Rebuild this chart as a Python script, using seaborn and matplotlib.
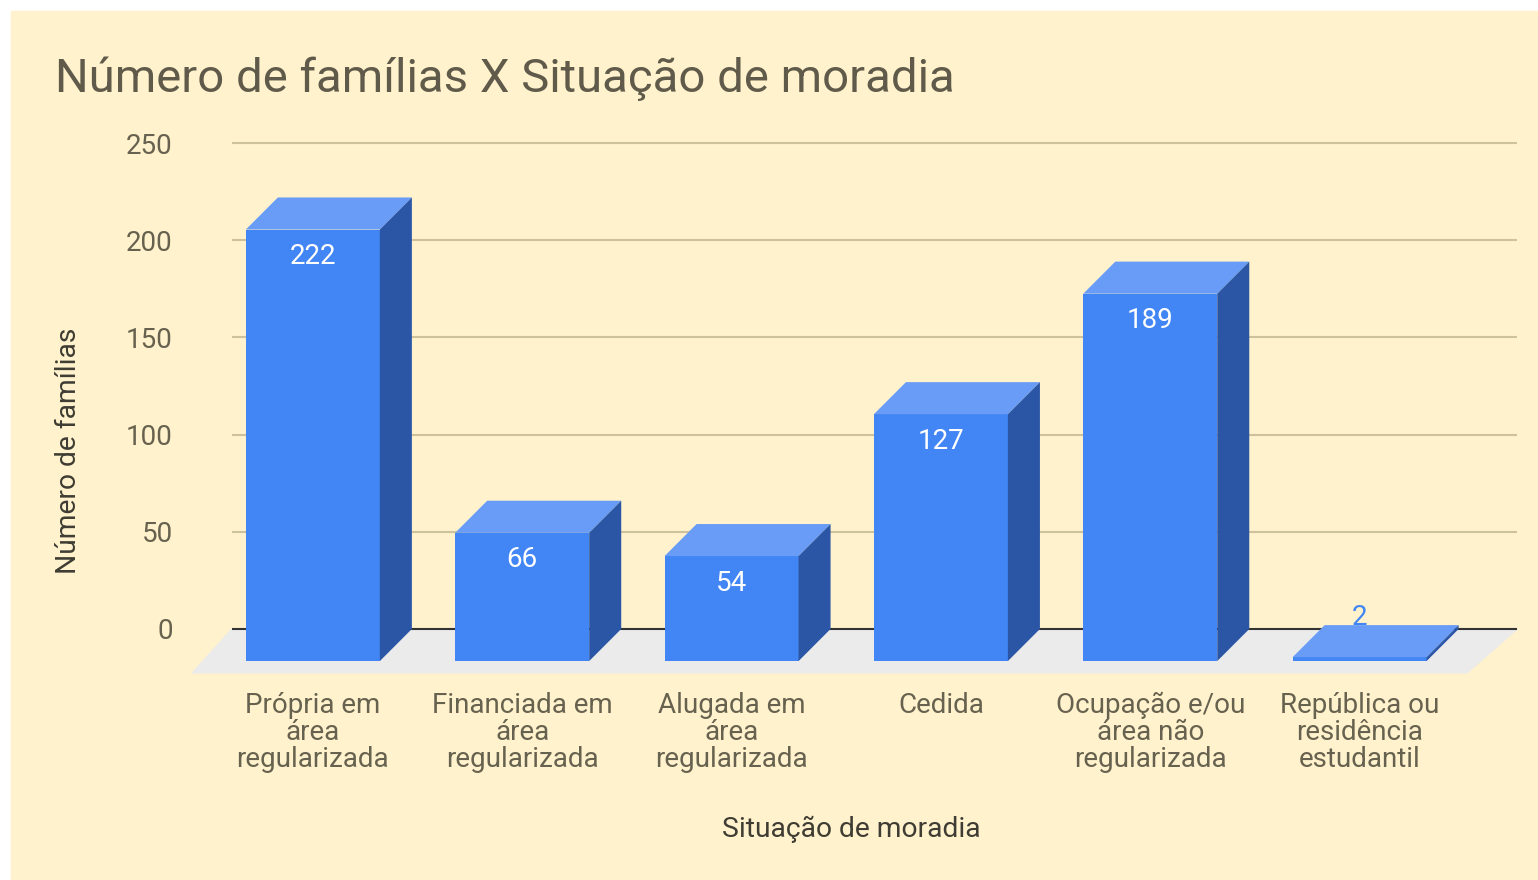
import matplotlib
matplotlib.use('Agg')
import matplotlib.pyplot as plt
from matplotlib.patches import Polygon, Rectangle
import pandas as pd
import seaborn as sns

# --- data ---
categories = ['Própria em\nárea\nregularizada',
              'Financiada em\nárea\nregularizada',
              'Alugada em\nárea\nregularizada',
              'Cedida',
              'Ocupação e/ou\nárea não\nregularizada',
              'República ou\nresidência\nestudantil']
familias = [222, 66, 54, 127, 189, 2]
y_ticks = [0, 50, 100, 150, 200, 250]

title = 'Número de famílias X Situação de moradia'
x_title = 'Situação de moradia'
y_title = 'Número de famílias'

# --- style ---
sns.set_theme(style='white')
plt.rcParams['font.family'] = ['Roboto', 'DejaVu Sans']

bg = '#FFF2CC'
front_col = '#4285F4'
top_col = '#699CF6'
side_col = '#2B56A5'
floor_col = '#EBEBEB'
grid_col = '#CDC29E'
text_col = '#67624F'
dark_text = '#3E3C33'

# 3D offsets in data units (back plane is up/right of the front face)
dx, dy = 0.153, 16.5
floor_dx_l, floor_dx_r, floor_dy = 0.19, 0.24, 22.6
x_lo, x_hi = -0.539, 5.60

fig = plt.figure(figsize=(15.38, 8.8), dpi=100, facecolor='white')
fig.patches.append(Rectangle((11 / 1538, 0), 1, 1 - 11 / 880, transform=fig.transFigure,
                             color=bg, zorder=-10))
ax = fig.add_axes([0.1167, 0.2278, 0.8807, 0.6207])
ax.set_facecolor('none')

df = pd.DataFrame({'situacao': categories, 'familias': familias})
sns.barplot(data=df, x='situacao', y='familias', color=front_col, saturation=1,
            width=0.64, linewidth=0, ax=ax, zorder=3)

# floor, grid and zero line
ax.add_patch(Polygon([(x_lo, 0), (x_hi, 0), (x_hi - floor_dx_r, -floor_dy),
                      (x_lo - floor_dx_l, -floor_dy)], closed=True, color=floor_col, zorder=1))
ax.hlines(y_ticks[1:], x_lo, x_hi, color=grid_col, lw=1.5, zorder=1.5)
ax.hlines(0, x_lo, x_hi, color='#333333', lw=1.5, zorder=2)

# turn the flat bars into boxes
centers = []
for p, v in zip(ax.containers[0], familias):
    x0 = p.get_x() - dx
    w = p.get_width()
    p.set_x(x0)
    p.set_y(-dy)
    ax.add_patch(Polygon([(x0, v - dy), (x0 + w, v - dy), (x0 + w + dx, v), (x0 + dx, v)],
                         closed=True, color=top_col, lw=0, zorder=3))
    ax.add_patch(Polygon([(x0 + w, -dy), (x0 + w + dx, 0), (x0 + w + dx, v), (x0 + w, v - dy)],
                         closed=True, color=side_col, lw=0, zorder=3))
    cx = x0 + w / 2
    centers.append(cx)
    if v >= 20:
        ax.text(cx, v - dy - 14, str(v), color='white', ha='center', va='center',
                fontsize=20, zorder=4)
    else:
        ax.text(cx, v + 4, str(v), color=front_col, ha='center', va='center',
                fontsize=20, zorder=4)

ax.set_xlim(-0.79, 5.68)
ax.set_ylim(-26, 255)
ax.set_yticks(y_ticks)
ax.set_yticklabels([str(t) for t in y_ticks])
ax.set_xticks(centers)
ax.set_xticklabels(categories, linespacing=1.0)
ax.tick_params(axis='y', length=0, pad=4.7, labelsize=20, labelcolor=text_col)
ax.tick_params(axis='x', length=0, pad=9, labelsize=20, labelcolor=text_col)
ax.set_xlabel('')
ax.set_ylabel('')
for s in ax.spines.values():
    s.set_visible(False)
ax.grid(False)

fig.text(55 / 1538, 1 - 92 / 880, title, fontsize=34, color='#5F5A4A', ha='left', va='baseline')
fig.text(68 / 1538, 1 - 451 / 880, y_title, fontsize=20.3, color=dark_text, rotation=90,
         ha='center', va='center')
fig.text(851 / 1538, 1 - 829 / 880, x_title, fontsize=20.3, color=dark_text, ha='center', va='center')

fig.savefig('out.png', dpi=100, facecolor=fig.get_facecolor())
